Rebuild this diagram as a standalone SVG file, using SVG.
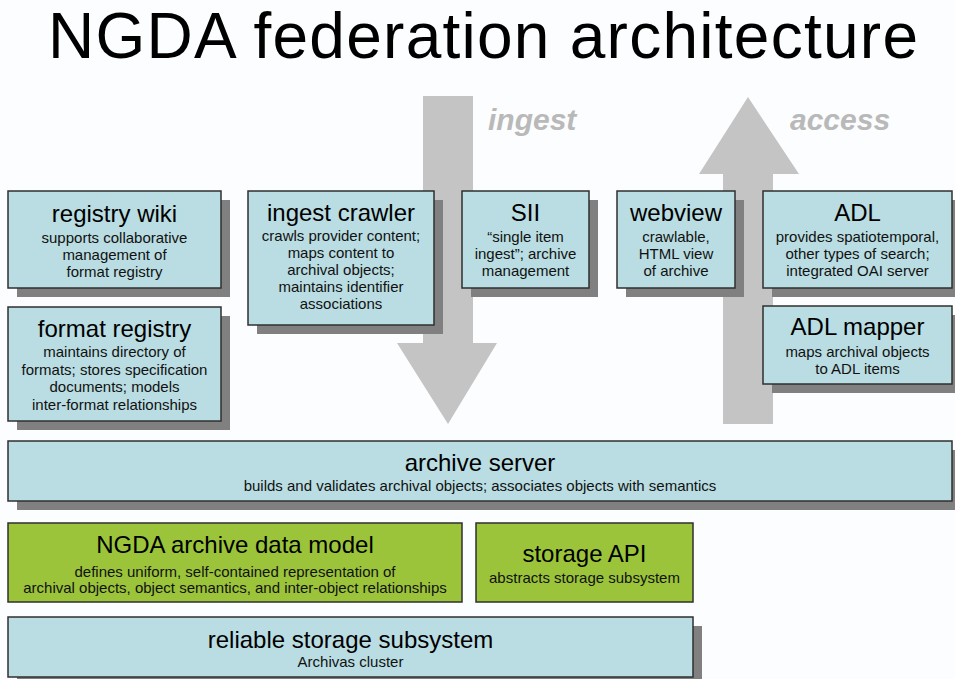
<svg xmlns="http://www.w3.org/2000/svg" width="955" height="679" viewBox="0 0 955 679">
  <style>
    text { font-family: "Liberation Sans", Arial, sans-serif; text-anchor: middle; fill: #111; }
    .title { font-size: 64px; fill: #000; }
    .flow { font-size: 30px; font-weight: bold; font-style: italic; fill: #b9b9b9; text-anchor: start; }
    .head { font-size: 24px; fill: #000; }
    .sub { font-size: 15px; }
    .box { fill: #b9dde2; stroke: #2f2f2f; stroke-width: 1.5; }
    .green { fill: #9bc43b; stroke: #2f2f2f; stroke-width: 1.5; }
    .shadow { fill: #808080; }
    .arrow { fill: #c4c4c4; }
  </style>

  <rect width="955" height="679" fill="#fcfdfe"/>

  <text class="title" x="483" y="58" textLength="870" lengthAdjust="spacing">NGDA federation architecture</text>

  <!-- ingest / access flow arrows, drawn beneath the boxes -->
  <g id="connectors">
    <polygon class="arrow" points="423,96 473,96 473,343 497,343 448,424 397,343 423,343"/>
    <polygon class="arrow" points="748,97 799,174 773,174 773,424 723,424 723,174 699,174"/>
    <text class="flow" x="488" y="130">ingest</text>
    <text class="flow" x="790" y="130">access</text>
  </g>

  <g id="registry-wiki">
    <rect class="shadow" x="17" y="200" width="213" height="97"/>
    <rect class="box" x="8" y="191" width="213" height="97"/>
    <text class="head" x="114.5" y="222">registry wiki</text>
    <text class="sub" x="114.5" y="243">supports collaborative</text>
    <text class="sub" x="114.5" y="260">management of</text>
    <text class="sub" x="114.5" y="277">format registry</text>
  </g>

  <g id="format-registry">
    <rect class="shadow" x="17" y="316" width="213" height="114"/>
    <rect class="box" x="8" y="307" width="213" height="114"/>
    <text class="head" x="114.5" y="337">format registry</text>
    <text class="sub" x="114.5" y="357">maintains directory of</text>
    <text class="sub" x="114.5" y="374.5">formats; stores specification</text>
    <text class="sub" x="114.5" y="392">documents; models</text>
    <text class="sub" x="114.5" y="409.5">inter-format relationships</text>
  </g>

  <g id="ingest-crawler">
    <rect class="shadow" x="257" y="200" width="186" height="134"/>
    <rect class="box" x="248" y="191" width="186" height="134"/>
    <text class="head" x="341" y="221">ingest crawler</text>
    <text class="sub" x="341" y="241">crawls provider content;</text>
    <text class="sub" x="341" y="258">maps content to</text>
    <text class="sub" x="341" y="275">archival objects;</text>
    <text class="sub" x="341" y="292">maintains identifier</text>
    <text class="sub" x="341" y="309">associations</text>
  </g>

  <g id="sii">
    <rect class="shadow" x="471" y="200" width="127" height="97"/>
    <rect class="box" x="462" y="191" width="127" height="97"/>
    <text class="head" x="525.5" y="221">SII</text>
    <text class="sub" x="525.5" y="242">“single item</text>
    <text class="sub" x="525.5" y="259">ingest”; archive</text>
    <text class="sub" x="525.5" y="276">management</text>
  </g>

  <g id="webview">
    <rect class="shadow" x="626" y="200" width="118" height="97"/>
    <rect class="box" x="617" y="191" width="118" height="97"/>
    <text class="head" x="676" y="221">webview</text>
    <text class="sub" x="676" y="242">crawlable,</text>
    <text class="sub" x="676" y="259">HTML view</text>
    <text class="sub" x="676" y="276">of archive</text>
  </g>

  <g id="adl">
    <rect class="shadow" x="772" y="200" width="189" height="97"/>
    <rect class="box" x="763" y="191" width="189" height="97"/>
    <text class="head" x="857.5" y="221">ADL</text>
    <text class="sub" x="857.5" y="242">provides spatiotemporal,</text>
    <text class="sub" x="857.5" y="259">other types of search;</text>
    <text class="sub" x="857.5" y="276">integrated OAI server</text>
  </g>

  <g id="adl-mapper">
    <rect class="shadow" x="772" y="315" width="189" height="78"/>
    <rect class="box" x="763" y="306" width="189" height="78"/>
    <text class="head" x="857.5" y="335">ADL mapper</text>
    <text class="sub" x="857.5" y="357">maps archival objects</text>
    <text class="sub" x="857.5" y="374">to ADL items</text>
  </g>

  <g id="archive-server">
    <rect class="shadow" x="17" y="450" width="944" height="60"/>
    <rect class="box" x="8" y="441" width="944" height="60"/>
    <text class="head" x="480" y="471">archive server</text>
    <text class="sub" x="480" y="491">builds and validates archival objects; associates objects with semantics</text>
  </g>

  <g id="archive-data-model">
    <rect class="green" x="8" y="523" width="454" height="79"/>
    <text class="head" x="235" y="553">NGDA archive data model</text>
    <text class="sub" x="235" y="577">defines uniform, self-contained representation of</text>
    <text class="sub" x="235" y="593">archival objects, object semantics, and inter-object relationships</text>
  </g>

  <g id="storage-api">
    <rect class="green" x="476" y="523" width="217" height="79"/>
    <text class="head" x="584.5" y="562">storage API</text>
    <text class="sub" x="584.5" y="583">abstracts storage subsystem</text>
  </g>

  <g id="reliable-storage">
    <rect class="shadow" x="17" y="626" width="685" height="60"/>
    <rect class="box" x="8" y="617" width="685" height="60"/>
    <text class="head" x="350.5" y="648">reliable storage subsystem</text>
    <text class="sub" x="350.5" y="667">Archivas cluster</text>
  </g>
</svg>
